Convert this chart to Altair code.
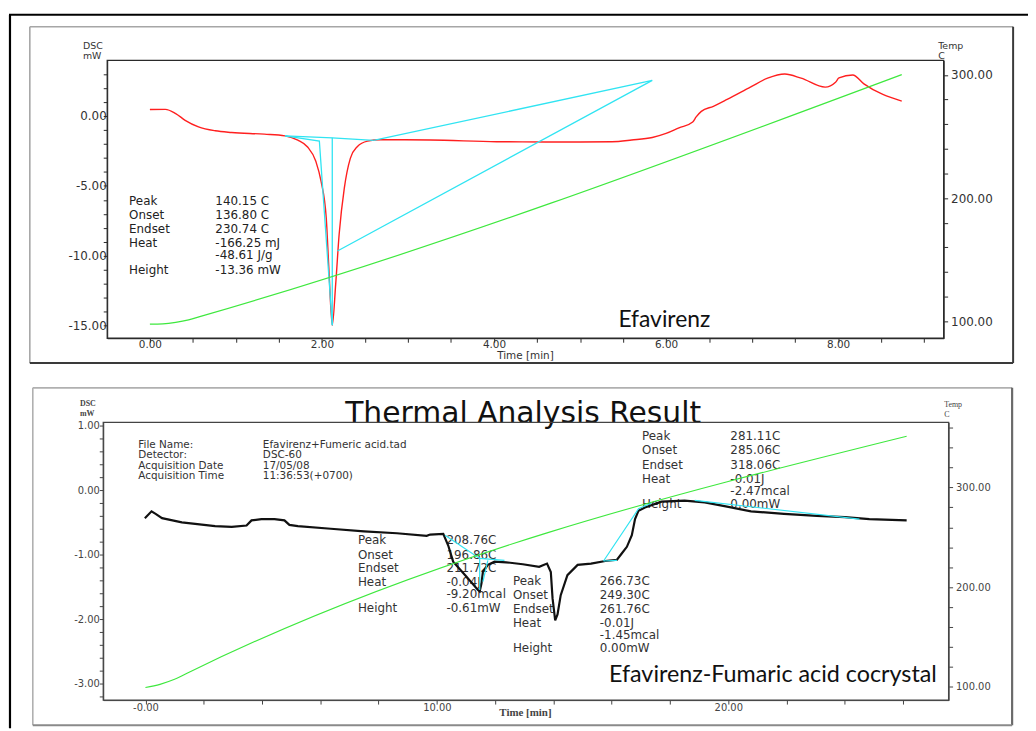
import altair as alt
import pandas as pd

W, H = 1028, 723

# ---------------- Panel 1 : Efavirenz ----------------
p1_time = [0.00, 0.18, 0.30, 0.41, 0.565, 0.76, 0.95, 1.33, 1.57, 1.72, 1.83, 1.93, 1.99, 2.05,
           2.08, 2.12, 2.16, 2.20, 2.26, 2.33, 2.41, 2.53, 2.68, 3.26, 4.03, 4.60, 5.00, 5.37,
           5.60, 5.84, 6.00, 6.15, 6.31, 6.35, 6.41, 6.55, 6.71, 6.98, 7.18, 7.38, 7.57, 7.85,
           7.97, 8.01, 8.17, 8.30, 8.74]
p1_dsc = [0.46, 0.47, 0.17, -0.31, -0.78, -1.06, -1.18, -1.30, -1.42, -1.73, -2.20, -3.26, -4.68,
          -7.28, -10.83, -14.96, -12.0, -8.46, -5.16, -3.03, -2.20, -1.80, -1.70, -1.72, -1.84,
          -1.86, -1.86, -1.84, -1.72, -1.54, -1.25, -0.85, -0.43, -0.07, 0.33, 0.69, 1.18, 2.06,
          2.70, 3.00, 2.70, 2.06, 2.41, 2.72, 2.93, 2.29, 1.06]

p1_temp_time = [0.0, 0.15, 0.30, 0.45, 0.60, 8.74]
p1_temp = [97.7, 98.0, 99.2, 101.2, 104.2, 300.2]

p1_cyan_seg = [1, 1, 1, 2, 2, 2, 3, 3, 4, 4, 4]
p1_cyan_time = [1.57, 2.12, 2.60, 1.57, 1.97, 2.12, 2.12, 2.12, 2.60, 5.84, 2.18]
p1_cyan_dsc = [-1.42, -1.56, -1.75, -1.42, -1.79, -14.96, -1.56, -14.96, -1.75, 2.54, -9.65]

p1_ann_labels = ["Peak", "Onset", "Endset", "Heat", "", "Height"]
p1_ann_values = ["140.15 C", "136.80 C", "230.74 C", "-166.25 mJ", "-48.61 J/g", "-13.36 mW"]
p1_ann_rows = [-6.10, -7.09, -8.09, -9.08, -9.97, -10.99]
p1_ann_label_t = -0.242
p1_ann_value_t = 0.761

p1_name = "Efavirenz"
p1_name_at = (5.98, -14.61)

P1_XDOM = [-0.496, 9.227]
P1_YDOM = [-15.89, 3.97]
P1_TDOM = [86.3, 311.7]

# ---------------- Panel 2 : cocrystal ----------------
p2_time = [-0.02, 0.21, 0.35, 0.57, 1.25, 2.39, 2.96, 3.47, 3.64, 3.98, 4.43, 4.77, 4.94, 5.23,
           6.36, 7.50, 8.63, 9.65, 9.77, 10.22, 10.39, 10.56, 11.01, 11.41, 11.47, 11.53, 11.58,
           11.75, 11.98, 12.38, 12.95, 13.51, 13.78, 13.91, 13.97, 14.06, 14.14, 14.25, 14.48,
           14.83, 15.29, 15.78, 16.18, 16.35, 16.52, 16.69, 16.80, 16.92, 17.14, 17.71, 18.50,
           19.19, 19.87, 20.78, 21.91, 23.04, 24.00, 24.84, 26.12]
p2_dsc = [-0.436, -0.33, -0.37, -0.435, -0.50, -0.56, -0.57, -0.55, -0.47, -0.45, -0.45, -0.47,
          -0.54, -0.56, -0.60, -0.64, -0.67, -0.71, -0.69, -0.68, -0.86, -1.11, -1.34, -1.55,
          -1.57, -1.45, -1.27, -1.16, -1.11, -1.12, -1.15, -1.19, -1.14, -1.27, -1.68, -2.02,
          -1.93, -1.63, -1.32, -1.16, -1.14, -1.10, -1.08, -0.98, -0.88, -0.70, -0.45, -0.32,
          -0.27, -0.18, -0.165, -0.19, -0.25, -0.33, -0.37, -0.40, -0.42, -0.45, -0.47]

p2_temp_time = [0.0, 0.5, 1.0, 1.5, 26.12]
p2_temp = [99.3, 102.5, 107.5, 114.7, 351.3]

p2_cyan_seg = [1, 1, 1, 2, 2, 3, 3, 4, 4, 5, 5, 5, 6, 6]
p2_cyan_time = [10.28, 11.47, 12.32, 11.47, 11.47, 11.58, 11.75, 15.72, 16.18, 15.72, 16.92, 17.37, 18.85, 24.50]
p2_cyan_dsc = [-0.70, -1.06, -1.09, -1.06, -1.55, -1.42, -1.09, -1.10, -1.09, -1.10, -0.29, -0.20, -0.16, -0.45]

p2_info_labels = ["File Name:", "Detector:", "Acquisition Date", "Acquisition Time"]
p2_info_values = ["Efavirenz+Fumeric acid.tad", "DSC-60", "17/05/08", "11:36:53(+0700)"]
p2_info_rows = [0.700, 0.540, 0.380, 0.220]
p2_info_label_t = -0.245
p2_info_value_t = 4.03

ann_labels = ["Peak", "Onset", "Endset", "Heat", "", "Height"]
p2_a1_values = ["208.76C", "196.86C", "211.72C", "-0.04J", "-9.20mcal", "-0.61mW"]
p2_a1_rows = [-0.78, -1.00, -1.215, -1.431, -1.615, -1.831]
p2_a1_t = (7.29, 10.33)
p2_a2_values = ["266.73C", "249.30C", "261.76C", "-0.01J", "-1.45mcal", "0.00mW"]
p2_a2_rows = [-1.411, -1.626, -1.842, -2.062, -2.251, -2.457]
p2_a2_t = (12.61, 15.59)
p2_a3_values = ["281.11C", "285.06C", "318.06C", "-0.01J", "-2.47mcal", "0.00mW"]
p2_a3_rows = [0.835, 0.615, 0.395, 0.174, -0.01, -0.22]
p2_a3_t = (17.04, 20.07)

p2_title = "Thermal Analysis Result"
p2_title_at = (12.96, 1.035)
p2_name = "Efavirenz-Fumaric acid cocrystal"
p2_name_at = (21.53, -2.872)

P2_XDOM = [-1.447, 27.56]
P2_YDOM = [-3.257, 1.051]
P2_TDOM = [86.7, 365.3]

# ---------------- scales / axes ----------------
TXT = "#222222"
AX = "#2a2a2a"


def fmt_expr(test):
    return (f"{test} ? (datum.value < -0.0001 ? '-' + format(-datum.value, '.2f') : "
            f"format(abs(datum.value), '.2f')) : ''")


p1_xaxis = alt.Axis(orient="bottom", offset=330 - H, values=[i * 0.5 for i in range(0, 19)],
                    labelExpr=fmt_expr("datum.value % 2 == 0"),
                    tickSize=4, labelPadding=-3, grid=False, domainColor=AX, tickColor=AX,
                    labelFont="DejaVu Sans", labelFontSize=10.5, labelColor="#333",
                    labelOverlap=False, labelFlush=False,
                    title="Time [min]", titleX=521, titleY=17, titleBaseline="middle",
                    titleAlign="center", titleFont="DejaVu Sans", titleFontSize=10.5,
                    titleFontWeight="normal", titleColor="#333")
p1_yaxis = alt.Axis(orient="left", offset=-100, values=list(range(-15, 4)),
                    labelExpr=fmt_expr("datum.value % 5 == 0"),
                    tickSize=4, labelPadding=-3, grid=False, domainColor=AX, tickColor=AX,
                    labelFont="DejaVu Sans", labelFontSize=12, labelColor="#333",
                    labelOverlap=False, labelFlush=False,
                    title=["DSC", "mW"], titleAngle=0, titleX=-25, titleY=30,
                    titleAlign="left", titleBaseline="top", titleLineHeight=10.5,
                    titleFont="DejaVu Sans", titleFontSize=9.5, titleFontWeight="normal",
                    titleColor="#333")
p1_taxis = alt.Axis(orient="right", offset=943 - W, values=list(range(100, 301, 20)),
                    labelExpr=fmt_expr("datum.value % 100 == 0"),
                    tickSize=4, labelPadding=3, grid=False, domainColor=AX, tickColor=AX,
                    labelFont="DejaVu Sans", labelFontSize=12, labelColor="#333",
                    labelOverlap=False, labelFlush=False,
                    title=["Temp", "C"], titleAngle=0, titleX=-6, titleY=30,
                    titleAlign="left", titleBaseline="top", titleLineHeight=10.5,
                    titleFont="DejaVu Sans", titleFontSize=9.5, titleFontWeight="normal",
                    titleColor="#333")

p2_xaxis = alt.Axis(orient="bottom", offset=694.7 - H, values=list(range(0, 27, 2)),
                    labelExpr="datum.value == 0 ? '-0.00' : (datum.value % 10 == 0 ? format(datum.value, '.2f') : '')",
                    tickSize=4, labelPadding=-2, grid=False, domainColor="#444", tickColor="#444",
                    labelFont="DejaVu Sans", labelFontSize=10, labelColor="#444",
                    labelOverlap=False, labelFlush=False,
                    title="Time  [min]", titleX=521, titleY=13, titleBaseline="middle",
                    titleAlign="center", titleFont="Liberation Serif", titleFontSize=11,
                    titleFontWeight="bold", titleColor="#444")
p2_yaxis = alt.Axis(orient="left", offset=-96, values=[round(-3.2 + 0.2 * i, 1) for i in range(22)],
                    labelExpr=fmt_expr("abs(datum.value - round(datum.value)) < 0.001"),
                    tickSize=4, labelPadding=0, grid=False, domainColor="#444", tickColor="#444",
                    labelFont="DejaVu Sans", labelFontSize=10, labelColor="#444",
                    labelOverlap=False, labelFlush=False,
                    title=["DSC", "mW"], titleAngle=0, titleX=-24, titleY=392,
                    titleAlign="left", titleBaseline="top", titleLineHeight=10,
                    titleFont="Liberation Serif", titleFontSize=8, titleFontWeight="bold",
                    titleColor="#444")
p2_taxis = alt.Axis(orient="right", offset=948 - W, values=list(range(100, 361, 20)),
                    labelExpr=fmt_expr("datum.value % 100 == 0"),
                    tickSize=4, labelPadding=3, grid=False, domainColor="#444", tickColor="#444",
                    labelFont="DejaVu Sans", labelFontSize=10, labelColor="#444",
                    labelOverlap=False, labelFlush=False,
                    title=["Temp", "C"], titleAngle=0, titleX=-5, titleY=393,
                    titleAlign="left", titleBaseline="top", titleLineHeight=10,
                    titleFont="Liberation Serif", titleFontSize=8, titleFontWeight="normal",
                    titleColor="#444")


def p1x(f="t"):
    return alt.X(f"{f}:Q", scale=alt.Scale(domain=P1_XDOM, range=[100, 943], nice=False, zero=False), axis=p1_xaxis)


def p1y(f="v"):
    return alt.Y(f"{f}:Q", scale=alt.Scale(domain=P1_YDOM, range=[330, 50], nice=False, zero=False), axis=p1_yaxis)


def p1t(f="v"):
    return alt.Y(f"{f}:Q", scale=alt.Scale(domain=P1_TDOM, range=[330, 50], nice=False, zero=False), axis=p1_taxis)


def p2x(f="t"):
    return alt.X(f"{f}:Q", scale=alt.Scale(domain=P2_XDOM, range=[96, 948], nice=False, zero=False), axis=p2_xaxis)


def p2y(f="v"):
    return alt.Y(f"{f}:Q", scale=alt.Scale(domain=P2_YDOM, range=[694.7, 414.7], nice=False, zero=False), axis=p2_yaxis)


def p2t(f="v"):
    return alt.Y(f"{f}:Q", scale=alt.Scale(domain=P2_TDOM, range=[694.7, 414.7], nice=False, zero=False), axis=p2_taxis)


def texts(labels, rows, t):
    return pd.DataFrame({"t": [t] * len(rows), "v": rows, "s": labels})


# ---------------- Panel 1 layers ----------------
frame1 = alt.Chart(pd.DataFrame({"t": [P1_XDOM[0]], "t2": [P1_XDOM[1]], "v": [P1_YDOM[0]], "v2": [P1_YDOM[1]]})).mark_rect(
    fill=None, stroke=AX, strokeWidth=1.3).encode(x=p1x(), x2="t2:Q", y=p1y(), y2="v2:Q")
red1 = alt.Chart(pd.DataFrame({"t": p1_time, "v": p1_dsc})).mark_line(
    color="#ff1f1f", strokeWidth=1.4, interpolate="monotone").encode(x=p1x(), y=p1y())
cyan1 = alt.Chart(pd.DataFrame({"t": p1_cyan_time, "v": p1_cyan_dsc, "seg": p1_cyan_seg,
                                "o": list(range(len(p1_cyan_seg)))})).mark_line(
    color="#30e4f2", strokeWidth=1.3).encode(x=p1x(), y=p1y(), detail="seg:N", order="o:Q")
txt1a = alt.Chart(texts(p1_ann_labels, p1_ann_rows, p1_ann_label_t)).mark_text(
    align="left", baseline="middle", font="DejaVu Sans", fontSize=12, color=TXT).encode(x=p1x(), y=p1y(), text="s:N")
txt1b = alt.Chart(texts(p1_ann_values, p1_ann_rows, p1_ann_value_t)).mark_text(
    align="left", baseline="middle", font="DejaVu Sans", fontSize=12, color=TXT).encode(x=p1x(), y=p1y(), text="s:N")
name1 = alt.Chart(pd.DataFrame({"t": [p1_name_at[0]], "v": [p1_name_at[1]], "s": [p1_name]})).mark_text(
    align="center", baseline="middle", font="Lato", fontSize=23, color="#111").encode(x=p1x(), y=p1y(), text="s:N")
green1 = alt.Chart(pd.DataFrame({"t": p1_temp_time, "v": p1_temp})).mark_line(
    color="#3ee83e", strokeWidth=1.2, interpolate="monotone").encode(x=p1x(), y=p1t())

panel1 = alt.layer(alt.layer(frame1, red1, cyan1, txt1a, txt1b, name1), green1).resolve_scale(y="independent")

# ---------------- Panel 2 layers ----------------
frame2 = alt.Chart(pd.DataFrame({"t": [P2_XDOM[0]], "t2": [P2_XDOM[1]], "v": [P2_YDOM[0]], "v2": [P2_YDOM[1]]})).mark_rect(
    fill=None, stroke="#444", strokeWidth=1.3).encode(x=p2x(), x2="t2:Q", y=p2y(), y2="v2:Q")
green2 = alt.Chart(pd.DataFrame({"t": p2_temp_time, "v": p2_temp})).mark_line(
    color="#3ee83e", strokeWidth=1.1, interpolate="monotone").encode(x=p2x(), y=p2t())
black2 = alt.Chart(pd.DataFrame({"t": p2_time, "v": p2_dsc})).mark_line(
    color="#111111", strokeWidth=2.2).encode(x=p2x(), y=p2y())
cyan2 = alt.Chart(pd.DataFrame({"t": p2_cyan_time, "v": p2_cyan_dsc, "seg": p2_cyan_seg,
                                "o": list(range(len(p2_cyan_seg)))})).mark_line(
    color="#30e4f2", strokeWidth=1.2).encode(x=p2x(), y=p2y(), detail="seg:N", order="o:Q")


def t2(df, size=12):
    return alt.Chart(df).mark_text(align="left", baseline="middle", font="DejaVu Sans",
                                   fontSize=size, color="#333").encode(x=p2x(), y=p2y(), text="s:N")


info_a = t2(texts(p2_info_labels, p2_info_rows, p2_info_label_t), 10.5)
info_b = t2(texts(p2_info_values, p2_info_rows, p2_info_value_t), 10.5)
a1a = t2(texts(ann_labels, p2_a1_rows, p2_a1_t[0]))
a1b = t2(texts(p2_a1_values, p2_a1_rows, p2_a1_t[1]))
a2a = t2(texts(ann_labels, p2_a2_rows, p2_a2_t[0]))
a2b = t2(texts(p2_a2_values, p2_a2_rows, p2_a2_t[1]))
a3a = t2(texts(ann_labels, p2_a3_rows, p2_a3_t[0]))
a3b = t2(texts(p2_a3_values, p2_a3_rows, p2_a3_t[1]))
title2 = alt.Chart(pd.DataFrame({"t": [p2_title_at[0]], "v": [p2_title_at[1]], "s": [p2_title]})).mark_text(
    align="center", baseline="alphabetic", font="DejaVu Sans", fontSize=30, color="#111").encode(x=p2x(), y=p2y(), text="s:N")
name2 = alt.Chart(pd.DataFrame({"t": [p2_name_at[0]], "v": [p2_name_at[1]], "s": [p2_name]})).mark_text(
    align="center", baseline="middle", font="Lato", fontSize=23.5, color="#111").encode(x=p2x(), y=p2y(), text="s:N")

panel2 = alt.layer(
    alt.layer(title2, frame2, info_a, info_b, a1a, a1b, a2a, a2b, a3a, a3b, black2, cyan2, name2),
    green2).resolve_scale(y="independent")

# ---------------- frames (decoration) ----------------
one = alt.Data(values=[{}])


def rule(x1, y1, x2, y2, color, w):
    return alt.Chart(one).mark_rule(color=color, strokeWidth=w).encode(
        x=alt.value(x1), y=alt.value(y1), x2=alt.value(x2), y2=alt.value(y2))


deco = [
    rule(1, 4, W, 4, "#000", 2.2), rule(2, 4, 2, H, "#000", 2.2),
    rule(22, 16, 1013, 16, "#a6a6a6", 1.6), rule(22, 16, 22, 355, "#a6a6a6", 1.6),
    rule(1013, 16, 1013, 355, "#3a3a3a", 2), rule(22, 355, 1013, 355, "#3a3a3a", 2),
    rule(25, 380, 1012, 380, "#b0b0b0", 1.6), rule(25, 380, 25, 720, "#b0b0b0", 1.6),
    rule(1012, 380, 1012, 720, "#6a6a6a", 2.2), rule(25, 720, 1012, 720, "#8a8a8a", 2),
]

chart = alt.layer(*deco, panel1, panel2).resolve_scale(x="independent", y="independent").properties(
    width=W, height=H, autosize=alt.AutoSizeParams(type="none"), padding=0,
    background="white").configure_view(stroke=None)

chart.save("out.html", embed_options={"renderer": "svg", "actions": False})
